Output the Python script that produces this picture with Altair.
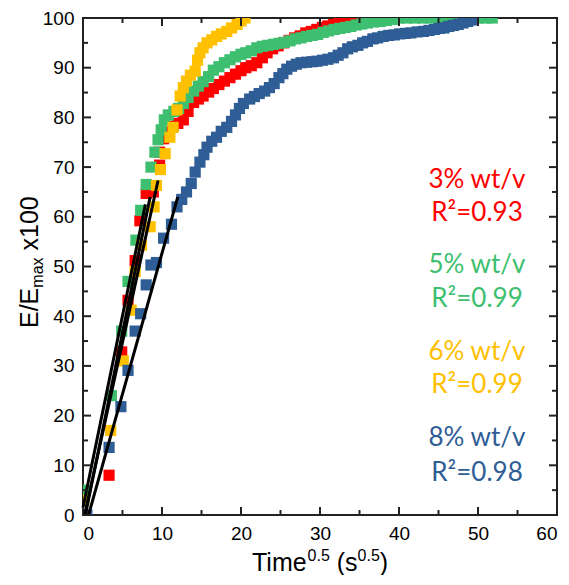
import altair as alt
import pandas as pd

# ---- data ----
series_names = ["3% wt/v", "5% wt/v", "6% wt/v", "8% wt/v"]
series_colors = ["#FF0000", "#3DBF6F", "#FFC000", "#2F5D95"]

red_x = [3.3, 4.9, 5.7, 6.6, 7.2, 8.0, 8.9, 9.7,
         9.7, 10.2, 10.8, 11.4, 12.0, 12.7, 13.3, 14.0, 14.6, 15.2, 15.9, 16.5, 17.2, 17.9, 18.6, 19.3, 20.0,
         20.6, 21.3, 22.0, 22.7, 23.3, 24.0, 24.7, 25.4, 26.1, 26.8, 27.5, 28.2, 28.9, 29.6, 30.3, 31.0, 31.7,
         32.4, 33.1, 33.8, 34.5, 35.3, 36.2, 37.2, 38.0]
red_y = [8.0, 32.8, 43.2, 51.2, 59.2, 64.7, 65.0, 70.4,
         73.0, 75.7, 77.0, 78.2, 78.8, 79.5, 81.2, 83.0, 83.7, 84.3, 85.1, 85.8, 86.6, 87.3, 88.0, 88.7, 89.4,
         90.0, 90.4, 91.0, 92.0, 93.0, 93.8, 94.4, 95.0, 95.5, 96.0, 96.4, 97.0, 97.3, 97.7, 98.1, 98.4, 98.7,
         99.1, 99.4, 99.7, 100.0, 100.0, 100.0, 100.0, 100.0]

green_x = [0.1, 3.6, 4.9, 5.7, 6.7, 7.3, 8.0, 8.6, 9.1, 9.5, 9.9, 10.3, 10.8, 11.5, 12.1, 12.7, 13.3, 14.0, 14.6,
           15.2, 15.9, 16.5, 17.2, 17.9, 18.6, 19.3, 20.0, 20.6, 21.3, 22.0, 22.7, 23.4, 24.1, 24.8, 25.5, 26.2,
           26.9, 27.6, 28.3, 29.0, 29.7, 30.4, 31.1, 31.8, 32.5, 33.2, 33.9, 34.6, 35.3, 36.0, 36.8, 37.6, 38.4,
           39.2, 40.0, 41.0, 42.0, 43.0, 44.0, 45.0, 46.0, 47.0, 48.0, 49.0, 50.0, 51.0, 51.8]
green_y = [5.0, 24.0, 37.0, 47.0, 55.3, 61.3, 66.5, 70.0, 73.0, 75.5, 77.5, 79.5, 80.5, 81.2, 81.8, 82.8, 84.0, 85.3,
           86.3, 87.2, 88.2, 89.5, 90.2, 91.0, 91.6, 92.2, 92.7, 93.0, 93.4, 94.0, 94.3, 94.5, 94.7, 94.9, 95.1,
           95.4, 95.8, 96.0, 96.3, 96.5, 96.7, 97.1, 97.4, 97.7, 97.9, 98.1, 98.3, 98.6, 98.8, 99.0, 99.2, 99.3,
           99.5, 99.7, 100.0, 100.0, 100.0, 100.0, 100.0, 100.0, 100.0, 100.0, 100.0, 100.0, 100.0, 100.0, 100.0]

yellow_x = [0.1, 3.5, 5.1, 6.1, 6.6, 7.4, 8.5, 9.0, 9.3, 9.8, 10.4, 11.0, 11.4, 11.9, 12.3, 12.7, 13.1, 13.6, 14.2,
            14.5, 14.8, 15.2, 15.7, 16.3, 16.9, 17.5, 18.2, 18.8, 19.5, 20.0, 20.5]
yellow_y = [3.0, 17.0, 31.0, 41.2, 49.0, 54.3, 58.0, 62.0, 66.3, 69.5, 72.7, 76.0, 78.0, 81.5, 84.3, 86.0, 87.3, 88.5,
            89.3, 91.5, 93.0, 94.0, 95.0, 95.6, 96.3, 96.8, 97.3, 98.0, 98.7, 99.4, 100.0]

blue_x = [0.5, 3.3, 4.8, 5.7, 6.6, 7.3, 8.0, 8.6, 9.3, 10.2, 11.2, 11.9,
          12.5, 13.1, 13.7, 14.2, 14.8, 15.3, 15.7, 16.3, 16.9, 17.5, 18.2, 18.8, 19.3, 19.8, 20.3, 21.1, 21.7,
          22.3, 23.0, 23.6, 24.2, 24.8, 25.3, 25.8, 26.4, 27.0, 27.6, 28.3, 29.0, 29.6, 30.3, 31.0, 31.7, 32.3,
          32.9, 33.5, 34.1, 34.8, 35.4, 36.0, 36.7, 37.3, 38.0, 38.7, 39.4, 40.1, 40.8, 41.5, 42.3, 43.1, 43.8,
          44.5, 45.1, 45.7, 46.3, 46.9, 47.5, 48.1, 48.7, 49.3]
blue_y = [0.0, 13.6, 21.8, 29.1, 37.0, 40.5, 46.3, 50.3, 50.8, 55.7, 58.5, 62.0,
          63.5, 65.0, 66.7, 69.0, 71.0, 72.5, 74.0, 75.2, 76.0, 77.2, 78.0, 79.2, 80.5, 81.8, 82.8, 83.7, 84.2,
          84.8, 85.3, 86.0, 86.8, 88.0, 88.8, 89.7, 90.3, 90.7, 91.0, 91.1, 91.2, 91.3, 91.5, 91.7, 92.0, 92.5,
          93.0, 93.8, 94.2, 94.5, 95.0, 95.3, 95.8, 96.0, 96.3, 96.5, 96.6, 96.8, 96.9, 97.0, 97.2, 97.3, 97.5,
          97.7, 97.9, 98.0, 98.3, 98.5, 98.7, 99.0, 99.3, 99.6]

# linear fits (start / end of each black line)
fit_x0 = [0.3, 0.0, 0.2, 0.7]
fit_y0 = [0.0, 1.5, 0.0, 0.0]
fit_x1 = [8.5, 7.9, 9.5, 12.0]
fit_y1 = [64.0, 62.5, 67.3, 64.0]

r2_labels = ["R²=0.93", "R²=0.99", "R²=0.99", "R²=0.98"]

x_major = [0, 10, 20, 30, 40, 50, 60]
x_minor = [5, 15, 25, 35, 45, 55]
y_major = [0, 10, 20, 30, 40, 50, 60, 70, 80, 90, 100]
y_minor = [5, 15, 25, 35, 45, 55, 65, 75, 85, 95]

# ---- tables ----
xs = [red_x, green_x, yellow_x, blue_x]
ys = [red_y, green_y, yellow_y, blue_y]
rows = []
for name, sx, sy in zip(series_names, xs, ys):
    for a, b in zip(sx, sy):
        rows.append({"series": name, "x": a, "y": b})
pts = pd.DataFrame(rows)
fits = pd.DataFrame({"series": series_names, "x": fit_x0, "y": fit_y0, "x2": fit_x1, "y2": fit_y1})

TOP = 10
W, H = 474, 497
FONT = "Liberation Sans"

xscale = alt.Scale(domain=[0, 60], nice=False, zero=False)
yscale = alt.Scale(domain=[0, 100], nice=False, zero=False)

points = alt.Chart(pts).mark_point(shape="square", filled=True, size=125, opacity=1, clip=True).encode(
    x=alt.X("x:Q", scale=xscale,
            axis=alt.Axis(values=x_major, title=None, ticks=False, domain=False, grid=False,
                          labelFontSize=19, labelFont=FONT, labelColor="black", labelPadding=9)),
    y=alt.Y("y:Q", scale=yscale,
            axis=alt.Axis(values=y_major, title=None, ticks=False, domain=False, grid=False,
                          labelFontSize=19, labelFont=FONT, labelColor="black", labelPadding=9)),
    color=alt.Color("series:N", scale=alt.Scale(domain=series_names, range=series_colors), legend=None),
)

lines = alt.Chart(fits).mark_rule(color="black", strokeWidth=3).encode(
    x="x:Q", y="y:Q", x2="x2:Q", y2="y2:Q"
)

def xticks(vals, length, top):
    df = pd.DataFrame({"v": vals})
    if top:
        yy, yy2 = 0, length
    else:
        yy, yy2 = H, H - length
    return alt.Chart(df).mark_rule(color="#222", strokeWidth=2).encode(
        x=alt.X("v:Q"), y=alt.value(yy), y2=alt.value(yy2))

def yticks(vals, length, right):
    df = pd.DataFrame({"v": vals})
    if right:
        xx, xx2 = W, W - length
    else:
        xx, xx2 = 0, length
    return alt.Chart(df).mark_rule(color="#222", strokeWidth=2).encode(
        y=alt.Y("v:Q"), x=alt.value(xx), x2=alt.value(xx2))

ticks = [
    xticks(x_major, 8, False), xticks(x_minor, 5, False),
    xticks(x_major, 8, True), xticks(x_minor, 5, True),
    yticks(y_major, 8, False), yticks(y_minor, 5, False),
    yticks(y_major, 8, True), yticks(y_minor, 5, True),
]

# annotations (pixel positions relative to plot origin)
ann_rows = []
ann_y = [180, 213, 265, 299, 352, 385, 438, 473]
for i, name in enumerate(series_names):
    ann_rows.append({"t": name, "c": name, "py": ann_y[2 * i] - 8 - TOP})
    ann_rows.append({"t": r2_labels[i], "c": name, "py": ann_y[2 * i + 1] - 8 - TOP})
ann = pd.DataFrame(ann_rows)
annotations = alt.Chart(ann).mark_text(font="Lato", fontSize=26, align="center", baseline="middle").encode(
    x=alt.value(394), y=alt.Y("py:Q", scale=None), text="t:N",
    color=alt.Color("c:N", scale=alt.Scale(domain=series_names, range=series_colors), legend=None),
)

def txt(s, px, py, size, angle=0):
    return alt.Chart(pd.DataFrame({"t": [s]})).mark_text(
        font=FONT, fontSize=size, align="left", baseline="alphabetic", color="black", angle=angle
    ).encode(x=alt.value(px), y=alt.value(py), text="t:N")

# x title: Time^0.5 (s^0.5)
BIG, SMALL = 25, 16
SP = 0.278 * BIG
xb = 169
xbl = 571 - 8 - TOP
w_time = 2.222 * BIG
w_sup = (0.556 + 0.278 + 0.556) * SMALL
w_ps = (0.333 + 0.5) * BIG
x1 = xb + w_time
x2 = x1 + w_sup + SP
x3 = x2 + w_ps
x4 = x3 + w_sup
xtitle = [
    txt("Time", xb, xbl, BIG),
    txt("0.5", x1, xbl - 10, SMALL),
    txt("(s", x2, xbl, BIG),
    txt("0.5", x3, xbl - 10, SMALL),
    txt(")", x4, xbl, BIG),
]

# y title: E/E_max x100 (rotated)
yb = -45
ystart = 328 - 8 - TOP
w_ee = (0.667 + 0.278 + 0.667) * BIG
w_max = (0.833 + 0.556 + 0.5) * SMALL
ytitle = [
    txt("E/E", yb, ystart, BIG, 270),
    txt("max", yb + 5, ystart - w_ee, SMALL, 270),
    txt("x100", yb, ystart - w_ee - w_max - SP, BIG, 270),
]

chart = alt.layer(points, lines, *ticks, annotations, *xtitle, *ytitle).properties(
    width=W, height=H,
    autosize=alt.AutoSizeParams(type="none"),
    padding={"left": 75, "top": TOP, "right": 4, "bottom": 60},
).configure_view(stroke="#222", strokeWidth=2)

chart.save("out.html", embed_options={"renderer": "svg", "actions": False})
